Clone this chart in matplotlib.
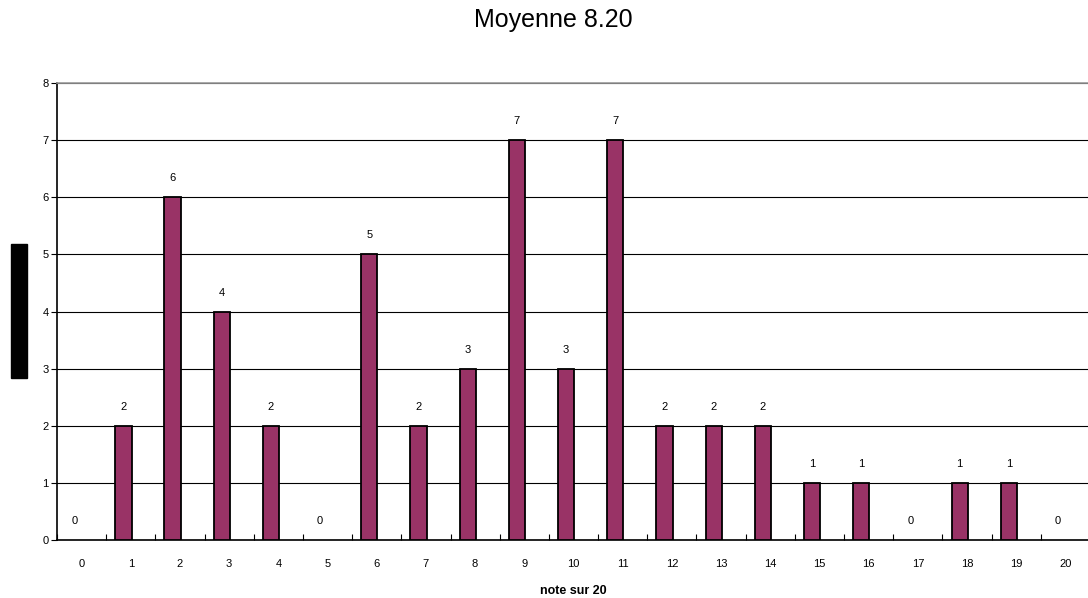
import matplotlib
matplotlib.use("Agg")
import matplotlib.pyplot as plt
from matplotlib.patches import Rectangle

plt.rcParams['font.family'] = ['Liberation Sans', 'DejaVu Sans']

notes = list(range(21))
counts = [0, 2, 6, 4, 2, 0, 5, 2, 3, 7, 3, 7, 2, 2, 2, 1, 1, 0, 1, 1, 0]
title = "Moyenne 8.20"
xlabel = "note sur 20"

fig = plt.figure(figsize=(10.88, 5.98), dpi=100)
ax = fig.add_axes([57/1088, 1-540/598, 1033/1088, (540-83)/598])

offset = -0.15
xs = [n + offset for n in notes]
edges = ['black' if c > 0 else 'none' for c in counts]
ax.bar(xs, counts, width=0.33, color='#993366', edgecolor=edges, linewidth=1.3, zorder=3)
for x, c in zip(xs, counts):
    ax.annotate(str(c), (x, c), xytext=(0, 10), textcoords='offset points',
                ha='center', va='bottom', fontsize=8, zorder=4)

ax.set_xlim(-0.5, 20.5)
ax.set_ylim(0, 8)
ax.set_yticks(range(0, 9))
ax.yaxis.grid(True, color='black', linewidth=0.8, zorder=0)
ax.set_axisbelow(True)

ax.set_xticks(notes)
ax.set_xticklabels([str(n) for n in notes], fontsize=8)
ax.set_xticks([n + 0.5 for n in range(-1, 21)], minor=True)
ax.tick_params(axis='x', which='major', length=0, pad=14)
ax.tick_params(axis='x', which='minor', length=4, direction='in', width=0.8)
ax.tick_params(axis='y', which='major', length=4, direction='out', width=0.8, labelsize=8, pad=2)

for s in ['left', 'bottom']:
    ax.spines[s].set_linewidth(1.2)
    ax.spines[s].set_color('black')
ax.spines['top'].set_color('#999999')
ax.spines['top'].set_linewidth(1.2)
ax.spines['right'].set_visible(False)

ax.set_xlabel(xlabel, fontsize=9, fontweight='bold', labelpad=11)
fig.text(553/1088, 1-20/598, title, ha='center', va='center', fontsize=18)

fig.add_artist(Rectangle((11/1088, 1-378/598), 16/1088, 134/598,
                         transform=fig.transFigure, color='black'))

fig.savefig("out.png", dpi=100)
